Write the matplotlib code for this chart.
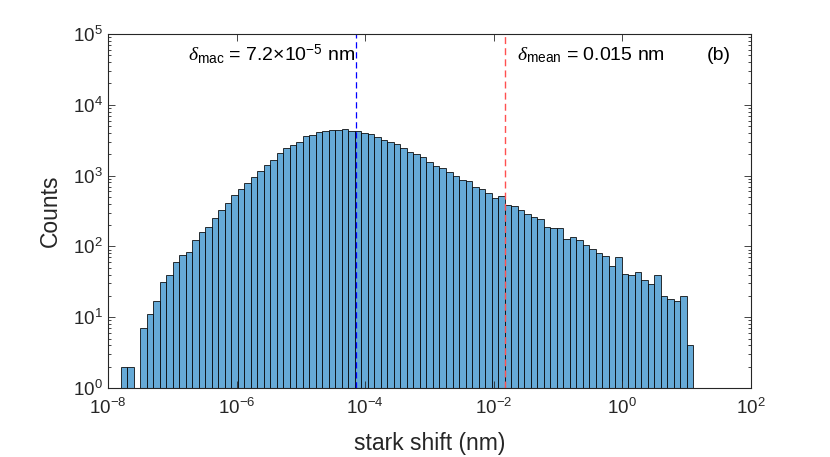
import numpy as np
import matplotlib
matplotlib.use("Agg")
import matplotlib.pyplot as plt

plt.rcParams['font.family'] = ['Liberation Sans', 'DejaVu Sans']
plt.rcParams['mathtext.fontset'] = 'custom'
plt.rcParams['mathtext.rm'] = 'Liberation Sans'
plt.rcParams['mathtext.it'] = 'Liberation Serif:italic'
plt.rcParams['axes.unicode_minus'] = False

# histogram counts, log10 bin edges from -7.8 to 1.1
log_lo = -7.8
log_hi = 1.1
counts = [2, 2, 0, 7, 11, 17, 31, 40, 60, 75,
          82, 124, 158, 190, 252, 324, 415, 527, 641, 788,
          959, 1178, 1432, 1652, 2076, 2415, 2698, 2973, 3568, 3774,
          4067, 4200, 4400, 4400, 4585, 4255, 4200, 4000, 3830, 3500,
          3206, 3002, 2782, 2443, 2188, 2010, 1823, 1579, 1386, 1298,
          1139, 980, 869, 849, 685, 648, 575, 479, 516, 385,
          376, 327, 290, 263, 244, 188, 182, 182, 128, 135,
          123, 104, 92, 80, 72, 53, 70, 41, 39, 43,
          34, 29, 39, 20, 18, 17, 20, 4]
delta_mac = 7.2e-5
delta_mean = 0.015

counts = np.array(counts)
edges = np.logspace(log_lo, log_hi, len(counts) + 1)
keep = counts > 0

W, H = 830, 457
fig = plt.figure(figsize=(W / 100, H / 100), dpi=100)
ax = fig.add_axes([0.1301, 0.151, 0.7747, 0.7746])

ax.bar(edges[:-1][keep], counts[keep], width=np.diff(edges)[keep], align='edge',
       color=(0.4, 0.668, 0.845), edgecolor=(0, 0, 0, 0.8), linewidth=0.7)

ax.axvline(delta_mac, color='blue', ls=(0, (5, 3)), lw=0.9)
ax.axvline(delta_mean, color='#ff5050', ls=(0, (5, 3)), lw=1.0)

ax.set_xscale('log')
ax.set_yscale('log')
ax.set_xlim(1e-8, 1e2)
ax.set_ylim(1, 1e5)
ax.set_xticks([1e-8, 1e-6, 1e-4, 1e-2, 1e0, 1e2])
ax.set_yticks([1e0, 1e1, 1e2, 1e3, 1e4, 1e5])

dark = '#262626'
for s in ax.spines.values():
    s.set_color(dark)
    s.set_linewidth(0.8)
ax.tick_params(which='both', direction='in', top=True, right=True, colors=dark,
               labelsize=13.5, width=0.6)
ax.tick_params(which='major', length=5, pad=7)
ax.tick_params(which='minor', length=2.5)
ax.tick_params(axis='y', pad=4)

ax.set_xlabel('stark shift (nm)', fontsize=16.5, color=dark, labelpad=10)
ax.set_ylabel('Counts', fontsize=16.5, color=dark, labelpad=8)

tf = fig.transFigure
ax.text(355 / W, 1 - 60 / H, r'$\delta_{\mathrm{mac}}$ = 7.2$\times$10$^{\mathrm{-5}}$ nm',
        transform=tf, fontsize=14, ha='right', va='baseline', color='black')
ax.text(517 / W, 1 - 60 / H, r'$\delta_{\mathrm{mean}}$ = 0.015 nm',
        transform=tf, fontsize=14, ha='left', va='baseline', color='black')
ax.text(731 / W, 1 - 60 / H, '(b)', transform=tf, fontsize=14, ha='right',
        va='baseline', color='black')

fig.savefig('out.png', dpi=100)
